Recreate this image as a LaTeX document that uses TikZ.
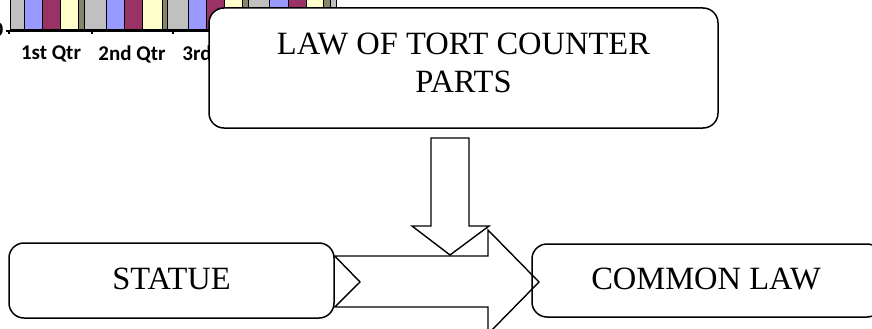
\documentclass[tikz,border=0pt]{standalone}
\usepackage{fontspec}
\setmainfont{Liberation Serif}
\newfontfamily\chartfont{Carlito}
\definecolor{bgray}{HTML}{C0C0C0}
\definecolor{bblue}{HTML}{9999FF}
\definecolor{bmaroon}{HTML}{993366}
\definecolor{byellow}{HTML}{FFFFCC}
\definecolor{bolive}{HTML}{85856A}
\tikzset{
  roundbox/.style={draw=black, line width=1.5pt, rounded corners=15pt, align=center, inner sep=0pt},
  blockarrow/.style={draw=black, line width=1.4pt, fill=white, line join=miter},
  bar/.style={draw=black, line width=0.9pt},
  chartlabel/.style={font=\chartfont\bfseries\fontsize{21}{24}\selectfont, inner sep=0pt},
  boxtext/.style={font=\fontsize{32.5}{38}\selectfont}
}
\begin{document}
\begin{tikzpicture}[x=1pt,y=-1pt]
\useasboundingbox (0,0) rectangle (872,329);
\clip (0,0) rectangle (872,329);
\fill[white] (0,0) rectangle (872,329);
% chart fragment
\foreach \a/\b/\c in {10/24/bgray,24/42/bblue,42/60/bmaroon,60/78/byellow,78/84/bolive,
  84/106/bgray,106/124/bblue,124/142/bmaroon,142/162/byellow,162/167/bolive,
  167/188/bgray,188/206/bblue,206/224/bmaroon,224/242/byellow,242/248/bolive,
  248/269/bgray,269/288/bblue,288/306/bmaroon,306/323/byellow,323/330/bolive,330/336/bgray}
  {\filldraw[bar, fill=\c] (\a,-3) rectangle (\b,29);}
\draw[line width=1.2pt] (6,31) -- (340,31);
\foreach \t in {9,92,173} {\draw[line width=1.2pt] (\t,31) -- (\t,34);}
\node[chartlabel, anchor=east] (zero) at (3.5,30) {0};
\node[chartlabel] (q1) at (51,54) {1st Qtr};
\node[chartlabel] (q2) at (132,54) {2nd Qtr};
\node[chartlabel] (q3) at (214,54) {3rd Qtr};
% top box
\node[roundbox, fill=white, minimum width=509pt, minimum height=120pt] (tort) at (463.5,68) {};
\node[boxtext, align=center, inner sep=0pt] (torttext) at (463.5,63) {LAW OF TORT COUNTER\\PARTS};
% bottom boxes
\node[roundbox, fill=white, minimum width=325pt, minimum height=75pt] (statue) at (171.5,280.5) {};
\node[boxtext, inner sep=0pt] (statuetext) at (171.5,279) {STATUE};
% arrows
\coordinate (tailtop) at (statue.east |- 0,256);
\coordinate (tailbot) at (statue.east |- 0,307);
\draw[blockarrow] (tailtop) -- (488,256) -- (488,230) -- (539,282) -- (488,334) -- (488,307) -- (tailbot) -- (360,282) -- cycle;
\draw[blockarrow] (431,138) -- (469,138) -- (469,226) -- (489,226) -- (450,255) -- (412,226) -- (431,226) -- cycle;
\node[roundbox, minimum width=350pt, minimum height=73pt] (common) at (707,280.5) {};
\node[boxtext, inner sep=0pt] (commontext) at (706,279) {COMMON LAW};
\end{tikzpicture}
\end{document}
